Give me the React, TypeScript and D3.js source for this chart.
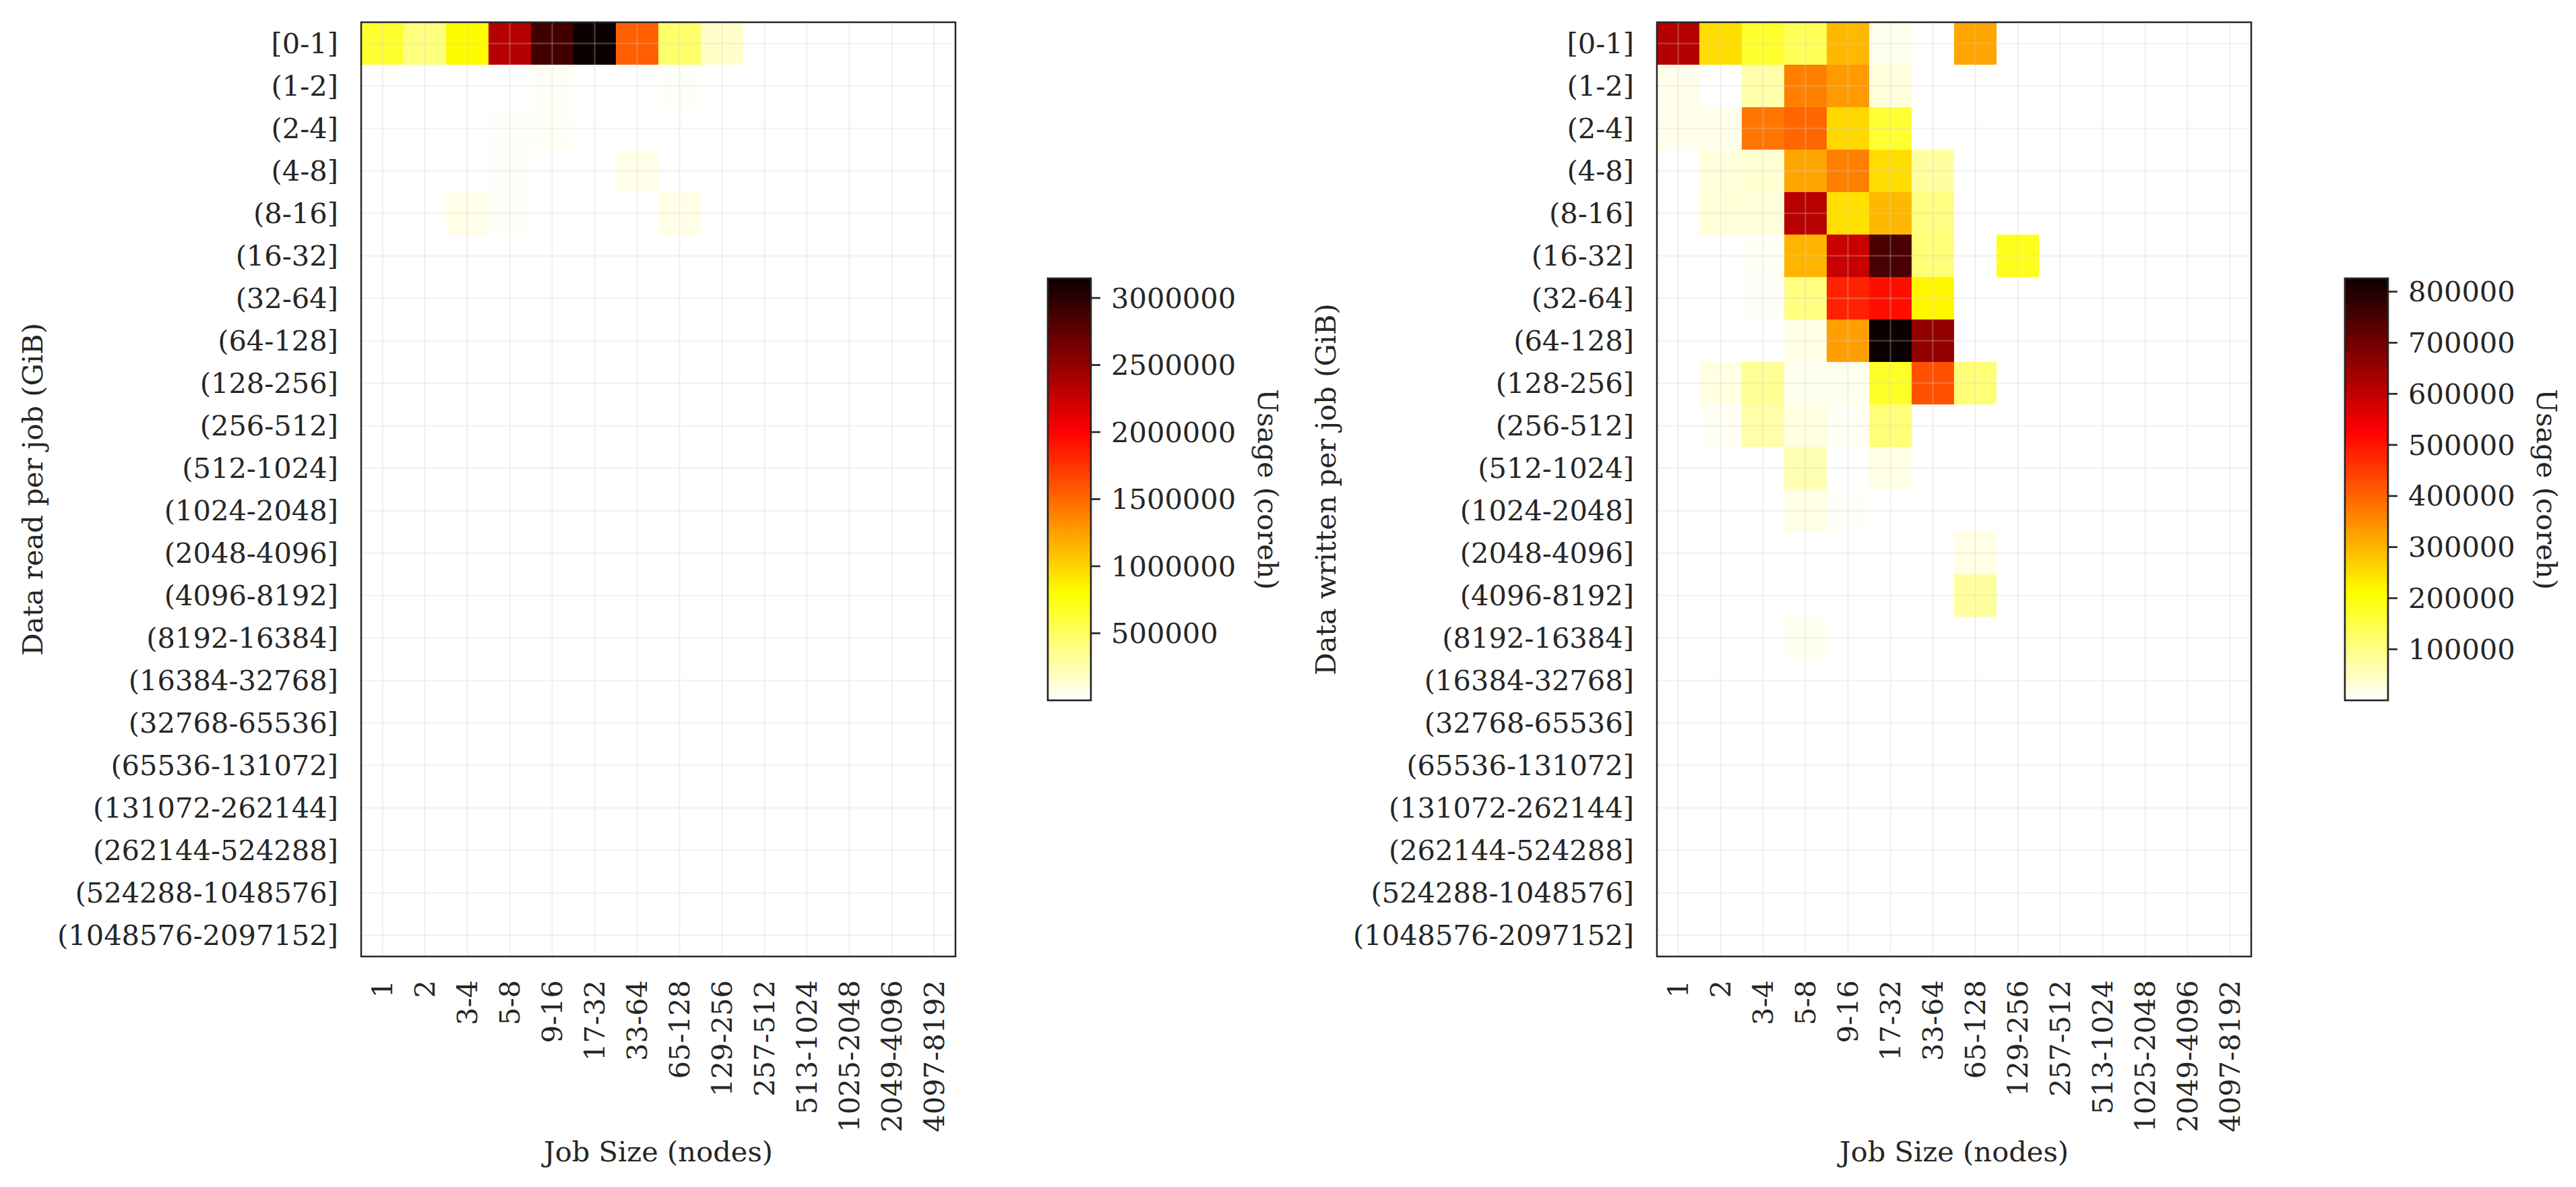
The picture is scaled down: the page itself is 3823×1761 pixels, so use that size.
import React, { useEffect } from "react";
import * as d3 from "d3";

// ---------- data ----------
const jobSizes = [
  "1", "2", "3-4", "5-8", "9-16", "17-32", "33-64", "65-128",
  "129-256", "257-512", "513-1024", "1025-2048", "2049-4096", "4097-8192",
];

const dataBins = [
  "[0-1]", "(1-2]", "(2-4]", "(4-8]", "(8-16]", "(16-32]", "(32-64]",
  "(64-128]", "(128-256]", "(256-512]", "(512-1024]", "(1024-2048]",
  "(2048-4096]", "(4096-8192]", "(8192-16384]", "(16384-32768]",
  "(32768-65536]", "(65536-131072]", "(131072-262144]", "(262144-524288]",
  "(524288-1048576]", "(1048576-2097152]",
];

// usage (coreh) by data read per job (rows) x job size (columns)
const readUsage: number[][] = [
  [650000, 400000, 820000, 2350000, 2890000, 3146000, 1550000, 466000, 173000, 0, 0, 0, 0, 0],
  [0, 0, 0, 0, 25000, 0, 0, 20000, 0, 0, 0, 0, 0, 0],
  [0, 0, 0, 15000, 25000, 0, 0, 0, 0, 0, 0, 0, 0, 0],
  [0, 0, 0, 15000, 0, 0, 65000, 0, 0, 0, 0, 0, 0, 0],
  [0, 0, 72000, 15000, 0, 0, 0, 72000, 0, 0, 0, 0, 0, 0],
  [0, 0, 0, 0, 0, 0, 0, 0, 0, 0, 0, 0, 0, 0],
  [0, 0, 0, 0, 0, 0, 0, 0, 0, 0, 0, 0, 0, 0],
  [0, 0, 0, 0, 0, 0, 0, 0, 0, 0, 0, 0, 0, 0],
  [0, 0, 0, 0, 0, 0, 0, 0, 0, 0, 0, 0, 0, 0],
  [0, 0, 0, 0, 0, 0, 0, 0, 0, 0, 0, 0, 0, 0],
  [0, 0, 0, 0, 0, 0, 0, 0, 0, 0, 0, 0, 0, 0],
  [0, 0, 0, 0, 0, 0, 0, 0, 0, 0, 0, 0, 0, 0],
  [0, 0, 0, 0, 0, 0, 0, 0, 0, 0, 0, 0, 0, 0],
  [0, 0, 0, 0, 0, 0, 0, 0, 0, 0, 0, 0, 0, 0],
  [0, 0, 0, 0, 0, 0, 0, 0, 0, 0, 0, 0, 0, 0],
  [0, 0, 0, 0, 0, 0, 0, 0, 0, 0, 0, 0, 0, 0],
  [0, 0, 0, 0, 0, 0, 0, 0, 0, 0, 0, 0, 0, 0],
  [0, 0, 0, 0, 0, 0, 0, 0, 0, 0, 0, 0, 0, 0],
  [0, 0, 0, 0, 0, 0, 0, 0, 0, 0, 0, 0, 0, 0],
  [0, 0, 0, 0, 0, 0, 0, 0, 0, 0, 0, 0, 0, 0],
  [0, 0, 0, 0, 0, 0, 0, 0, 0, 0, 0, 0, 0, 0],
  [0, 0, 0, 0, 0, 0, 0, 0, 0, 0, 0, 0, 0, 0],
];

// usage (coreh) by data written per job (rows) x job size (columns)
const writtenUsage: number[][] = [
  [617000, 252000, 170000, 136000, 297000, 14000, 0, 321000, 0, 0, 0, 0, 0, 0],
  [16000, 0, 70000, 367000, 335000, 29000, 0, 0, 0, 0, 0, 0, 0, 0],
  [16000, 16000, 377000, 399000, 258000, 169000, 0, 0, 0, 0, 0, 0, 0, 0],
  [0, 29000, 37000, 321000, 367000, 252000, 78000, 0, 0, 0, 0, 0, 0, 0],
  [0, 33000, 29000, 613000, 248000, 297000, 103000, 0, 0, 0, 0, 0, 0, 0],
  [0, 0, 8000, 301000, 592000, 750000, 111000, 0, 185000, 0, 0, 0, 0, 0],
  [0, 0, 5000, 103000, 482000, 507000, 220000, 0, 0, 0, 0, 0, 0, 0],
  [0, 0, 0, 21000, 330000, 826000, 659000, 0, 0, 0, 0, 0, 0, 0],
  [0, 25000, 87000, 14000, 14000, 177000, 425000, 111000, 0, 0, 0, 0, 0, 0],
  [0, 8000, 70000, 25000, 8000, 111000, 0, 0, 0, 0, 0, 0, 0, 0],
  [0, 0, 0, 62000, 0, 21000, 0, 0, 0, 0, 0, 0, 0, 0],
  [0, 0, 0, 21000, 5000, 0, 0, 0, 0, 0, 0, 0, 0, 0],
  [0, 0, 0, 0, 0, 0, 0, 21000, 0, 0, 0, 0, 0, 0],
  [0, 0, 0, 0, 0, 0, 0, 79000, 0, 0, 0, 0, 0, 0],
  [0, 0, 0, 12000, 0, 0, 0, 0, 0, 0, 0, 0, 0, 0],
  [0, 0, 0, 0, 0, 0, 0, 0, 0, 0, 0, 0, 0, 0],
  [0, 0, 0, 0, 0, 0, 0, 0, 0, 0, 0, 0, 0, 0],
  [0, 0, 0, 0, 0, 0, 0, 0, 0, 0, 0, 0, 0, 0],
  [0, 0, 0, 0, 0, 0, 0, 0, 0, 0, 0, 0, 0, 0],
  [0, 0, 0, 0, 0, 0, 0, 0, 0, 0, 0, 0, 0, 0],
  [0, 0, 0, 0, 0, 0, 0, 0, 0, 0, 0, 0, 0, 0],
  [0, 0, 0, 0, 0, 0, 0, 0, 0, 0, 0, 0, 0, 0],
];

const readTicks = [500000, 1000000, 1500000, 2000000, 2500000, 3000000];
const writtenTicks = [100000, 200000, 300000, 400000, 500000, 600000, 700000, 800000];

// ---------- style ----------
const W = 3823;
const H = 1761;
const FONT = "'DejaVu Serif', serif";
const FS = 41.6;
const INK = "#262626";

// matplotlib "hot" colormap, reversed
function hot(x: number): string {
  const r = x < 0.365079 ? 0.0416 + (1 - 0.0416) * (x / 0.365079) : 1;
  const g = x < 0.365079 ? 0 : x < 0.746032 ? (x - 0.365079) / (0.746032 - 0.365079) : 1;
  const b = x < 0.746032 ? 0 : (x - 0.746032) / (1 - 0.746032);
  return d3.rgb(r * 255, g * 255, b * 255).formatHex();
}
const hotR = (t: number) => hot(1 - Math.max(0, Math.min(1, t)));

type PanelProps = {
  id: string;
  axLeft: number;
  matrix: number[][];
  ticks: number[];
  yTitle: string;
  yTitleX: number;
  cbLeft: number;
  cbTitleX: number;
};

const AX_TOP = 33;
const AX_W = 882;
const AX_H = 1386;
const CB_TOP = 413;
const CB_W = 64;
const CB_H = 626;

function Panel({ id, axLeft, matrix, ticks, yTitle, yTitleX, cbLeft, cbTitleX }: PanelProps) {
  const x = d3.scaleBand<string>().domain(jobSizes).range([axLeft, axLeft + AX_W]);
  const y = d3.scaleBand<string>().domain(dataBins).range([AX_TOP, AX_TOP + AX_H]);
  const vmax = d3.max(matrix.flat()) as number;
  const color = d3.scaleSequential(hotR).domain([0, vmax]);
  const cbScale = d3.scaleLinear().domain([0, vmax]).range([CB_TOP + CB_H, CB_TOP]);
  const fmt = d3.format("d");
  const stops = d3.range(0, 65).map((i) => i / 64);
  const bw = x.bandwidth();
  const bh = y.bandwidth();

  return (
    <g>
      <defs>
        <linearGradient id={`grad-${id}`} x1="0" y1="1" x2="0" y2="0">
          {stops.map((s) => (
            <stop key={s} offset={s} stopColor={hotR(s)} />
          ))}
        </linearGradient>
      </defs>
      {/* cells */}
      {matrix.map((row, ri) =>
        row.map((v, ci) => (
          <rect
            key={`${ri}-${ci}`}
            x={x(jobSizes[ci])}
            y={y(dataBins[ri])}
            width={bw + 0.5}
            height={bh + 0.5}
            fill={color(v)}
          />
        ))
      )}
      {/* grid */}
      {jobSizes.map((j) => (
        <line
          key={`gx-${j}`}
          x1={(x(j) as number) + bw / 2}
          x2={(x(j) as number) + bw / 2}
          y1={AX_TOP}
          y2={AX_TOP + AX_H}
          stroke="#d0d0d0"
          strokeOpacity={0.32}
          strokeWidth={2}
        />
      ))}
      {dataBins.map((d) => (
        <line
          key={`gy-${d}`}
          x1={axLeft}
          x2={axLeft + AX_W}
          y1={(y(d) as number) + bh / 2}
          y2={(y(d) as number) + bh / 2}
          stroke="#d0d0d0"
          strokeOpacity={0.32}
          strokeWidth={2}
        />
      ))}
      {/* frame */}
      <rect x={axLeft} y={AX_TOP} width={AX_W} height={AX_H} fill="none" stroke={INK} strokeWidth={2.5} />
      {/* y tick labels */}
      {dataBins.map((d) => (
        <text
          key={`yl-${d}`}
          x={axLeft - 34}
          y={(y(d) as number) + bh / 2}
          textAnchor="end"
          dominantBaseline="central"
          fontFamily={FONT}
          fontSize={FS}
          fill={INK}
        >
          {d}
        </text>
      ))}
      {/* x tick labels */}
      {jobSizes.map((j) => {
        const cx = (x(j) as number) + bw / 2;
        const ty = AX_TOP + AX_H + 35;
        return (
          <text
            key={`xl-${j}`}
            transform={`translate(${cx},${ty}) rotate(-90)`}
            textAnchor="end"
            dominantBaseline="central"
            fontFamily={FONT}
            fontSize={FS}
            fill={INK}
          >
            {j}
          </text>
        );
      })}
      {/* axis titles */}
      <text
        x={axLeft + AX_W / 2}
        y={1723}
        textAnchor="middle"
        fontFamily={FONT}
        fontSize={FS}
        fill={INK}
      >
        Job Size (nodes)
      </text>
      <text
        transform={`translate(${yTitleX},${AX_TOP + AX_H / 2}) rotate(-90)`}
        textAnchor="middle"
        fontFamily={FONT}
        fontSize={FS}
        fill={INK}
      >
        {yTitle}
      </text>
      {/* colorbar */}
      <rect x={cbLeft} y={CB_TOP} width={CB_W} height={CB_H} fill={`url(#grad-${id})`} />
      <rect x={cbLeft} y={CB_TOP} width={CB_W} height={CB_H} fill="none" stroke={INK} strokeWidth={2.7} />
      {ticks.map((t) => (
        <g key={`ct-${t}`}>
          <line
            x1={cbLeft + CB_W}
            x2={cbLeft + CB_W + 14}
            y1={cbScale(t)}
            y2={cbScale(t)}
            stroke={INK}
            strokeWidth={2.7}
          />
          <text
            x={cbLeft + CB_W + 30}
            y={cbScale(t)}
            dominantBaseline="central"
            fontFamily={FONT}
            fontSize={FS}
            fill={INK}
          >
            {fmt(t)}
          </text>
        </g>
      ))}
      <text
        transform={`translate(${cbTitleX},${CB_TOP + CB_H / 2}) rotate(90)`}
        textAnchor="middle"
        fontFamily={FONT}
        fontSize={FS}
        fill={INK}
      >
        Usage (coreh)
      </text>
    </g>
  );
}

export default function App() {
  useEffect(() => {
    document.body.style.margin = "0";
    document.body.style.background = "#ffffff";
  }, []);
  return (
    <svg
      width={W}
      height={H}
      viewBox={`0 0 ${W} ${H}`}
      style={{ display: "block", background: "#ffffff" }}
    >
      <rect x={0} y={0} width={W} height={H} fill="#ffffff" />
      <Panel
        id="read"
        axLeft={536}
        matrix={readUsage}
        ticks={readTicks}
        yTitle="Data read per job (GiB)"
        yTitleX={63}
        cbLeft={1555}
        cbTitleX={1867}
      />
      <Panel
        id="written"
        axLeft={2459}
        matrix={writtenUsage}
        ticks={writtenTicks}
        yTitle="Data written per job (GiB)"
        yTitleX={1982}
        cbLeft={3480}
        cbTitleX={3765}
      />
    </svg>
  );
}
